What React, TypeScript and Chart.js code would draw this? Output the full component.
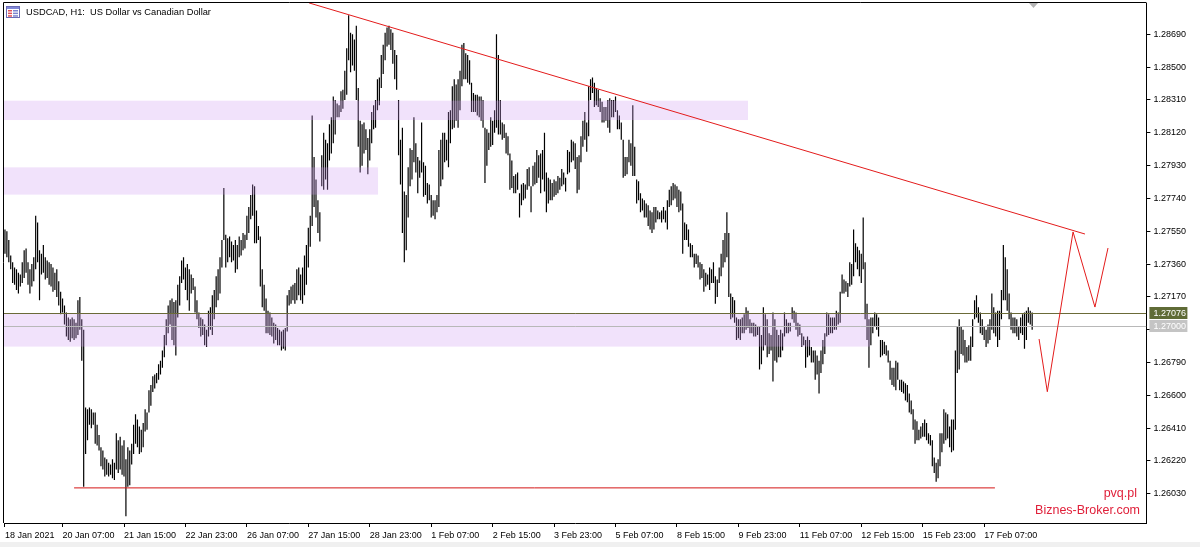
import React, { useEffect, useRef } from 'react';
import { Chart, registerables } from 'chart.js';

Chart.register(...registerables);

// ---- H1 bars (USDCAD), high / low per bar ----
const highs = [
1.2756,1.2755,1.2750,1.2741,1.2737,1.2734,1.2733,1.2731,1.2730,1.2737,
1.2744,1.2745,1.2737,1.2733,1.2736,1.2740,1.2764,1.2760,1.2744,1.2742,
1.2747,1.2740,1.2738,1.2737,1.2736,1.2734,1.2731,1.2733,1.2726,1.2720,
1.2716,1.2712,1.2708,1.2705,1.2704,1.2705,1.2704,1.2702,1.2715,1.2717,
1.2704,1.2698,1.2653,1.2652,1.2653,1.2652,1.2650,1.2650,1.2643,1.2637,
1.2630,1.2628,1.2624,1.2623,1.2621,1.2620,1.2623,1.2621,1.2638,1.2634,
1.2636,1.2631,1.2634,1.2623,1.2630,1.2628,1.2632,1.2643,1.2649,1.2646,
1.2642,1.2640,1.2644,1.2652,1.2650,1.2663,1.2666,1.2671,1.2672,1.2673,
1.2678,1.2680,1.2686,1.2695,1.2704,1.2712,1.2715,1.2716,1.2714,1.2715,
1.2724,1.2729,1.2738,1.2740,1.2734,1.2736,1.2733,1.2730,1.2728,1.2723,
1.2715,1.2708,1.2705,1.2704,1.2701,1.2698,1.2709,1.2711,1.2718,1.2721,
1.2729,1.2733,1.2740,1.2750,1.2780,1.2753,1.2751,1.2752,1.2749,1.2747,
1.2750,1.2747,1.2752,1.2750,1.2754,1.2753,1.2764,1.2769,1.2776,1.2782,
1.2781,1.2767,1.2758,1.2752,1.2733,1.2724,1.2716,1.2709,1.2708,1.2705,
1.2702,1.2701,1.2699,1.2698,1.2697,1.2698,1.2699,1.2718,1.2721,1.2723,
1.2724,1.2725,1.2733,1.2734,1.2730,1.2734,1.2741,1.2747,1.2757,1.2764,
1.2822,1.2798,1.2785,1.2773,1.2766,1.2799,1.2812,1.2808,1.2806,1.2817,
1.2821,1.2833,1.2831,1.2829,1.2828,1.2836,1.2837,1.2848,1.2861,1.2880,
1.2870,1.2869,1.2866,1.2874,1.2838,1.2819,1.2817,1.2818,1.2814,1.2809,
1.2814,1.2824,1.2828,1.2831,1.2843,1.2844,1.2857,1.2863,1.2870,1.2873,
1.2874,1.2872,1.2870,1.2860,1.2857,1.2831,1.2808,1.2815,1.2778,1.2776,
1.2792,1.2803,1.2802,1.2821,1.2806,1.2798,1.2796,1.2818,1.2795,1.2793,
1.2783,1.2782,1.2776,1.2773,1.2773,1.2776,1.2802,1.2808,1.2812,1.2812,
1.2808,1.2824,1.2825,1.2839,1.2843,1.2840,1.2843,1.2848,1.2863,1.2864,
1.2858,1.2857,1.2854,1.2841,1.2835,1.2834,1.2834,1.2833,1.2833,1.2831,
1.2815,1.2814,1.2812,1.2821,1.2819,1.2825,1.2869,1.2857,1.2831,1.2818,
1.2817,1.2812,1.2810,1.2800,1.2796,1.2787,1.2788,1.2789,1.2777,1.2782,
1.2783,1.2782,1.2791,1.2792,1.2781,1.2793,1.2795,1.2802,1.2799,1.2800,
1.2802,1.2812,1.2789,1.2786,1.2785,1.2783,1.2785,1.2784,1.2787,1.2786,
1.2791,1.2789,1.2786,1.2802,1.2801,1.2808,1.2807,1.2806,1.2798,1.2799,
1.2810,1.2819,1.2824,1.2818,1.2839,1.2843,1.2844,1.2841,1.2838,1.2837,
1.2832,1.2830,1.2827,1.2827,1.2831,1.2832,1.2831,1.2831,1.2833,1.2825,
1.2822,1.2818,1.2808,1.2798,1.2798,1.2808,1.2806,1.2828,1.2804,1.2785,
1.2784,1.2777,1.2774,1.2773,1.2771,1.2770,1.2767,1.2766,1.2769,1.2769,
1.2767,1.2766,1.2767,1.2769,1.2767,1.2773,1.2779,1.2781,1.2783,1.2782,
1.2781,1.2779,1.2778,1.2771,1.2760,1.2759,1.2756,1.2748,1.2747,1.2742,
1.2742,1.2741,1.2737,1.2736,1.2733,1.2731,1.2730,1.2734,1.2733,1.2737,
1.2729,1.2727,1.2734,1.2742,1.2750,1.2754,1.2766,1.2754,1.2719,1.2717,
1.2715,1.2705,1.2704,1.2704,1.2705,1.2707,1.2711,1.2709,1.2704,1.2702,
1.2702,1.2701,1.2700,1.2700,1.2695,1.2711,1.2707,1.2704,1.2696,1.2695,
1.2708,1.2704,1.2698,1.2695,1.2698,1.2696,1.2708,1.2704,1.2702,1.2702,
1.2711,1.2709,1.2708,1.2702,1.2701,1.2696,1.2694,1.2692,1.2694,1.2692,
1.2688,1.2686,1.2686,1.2683,1.2680,1.2686,1.2692,1.2696,1.2708,1.2707,
1.2705,1.2705,1.2705,1.2709,1.2708,1.2720,1.2730,1.2727,1.2726,1.2725,
1.2737,1.2736,1.2756,1.2748,1.2746,1.2744,1.2742,1.2763,1.2737,1.2713,
1.2704,1.2705,1.2705,1.2708,1.2707,1.2705,1.2692,1.2692,1.2691,1.2689,
1.2686,1.2680,1.2676,1.2676,1.2680,1.2679,1.2669,1.2669,1.2668,1.2667,
1.2666,1.2661,1.2657,1.2652,1.2646,1.2645,1.2640,1.2642,1.2644,1.2646,
1.2644,1.2638,1.2637,1.2634,1.2624,1.2621,1.2623,1.2638,1.2638,1.2652,
1.2650,1.2649,1.2642,1.2646,1.2646,1.2686,1.2700,1.2704,1.2700,1.2698,
1.2692,1.2688,1.2689,1.2694,1.2704,1.2715,1.2718,1.2711,1.2708,1.2704,
1.2700,1.2698,1.2701,1.2704,1.2719,1.2711,1.2708,1.2709,1.2709,1.2721,
1.2747,1.2740,1.2733,1.2719,1.2708,1.2705,1.2705,1.2704,1.2700,1.2705,
1.2707,1.2708,1.2709,1.2711,1.2709,1.2708
];

const lows = [
1.2742,1.2740,1.2737,1.2733,1.2725,1.2724,1.2721,1.2719,1.2723,1.2725,
1.2728,1.2731,1.2724,1.2719,1.2723,1.2726,1.2733,1.2737,1.2715,1.2730,
1.2731,1.2727,1.2728,1.2724,1.2723,1.2720,1.2721,1.2717,1.2712,1.2707,
1.2708,1.2701,1.2694,1.2692,1.2691,1.2693,1.2692,1.2693,1.2695,1.2698,
1.2680,1.2607,1.2626,1.2634,1.2643,1.2641,1.2643,1.2632,1.2631,1.2628,
1.2619,1.2617,1.2613,1.2614,1.2613,1.2614,1.2612,1.2611,1.2617,1.2615,
1.2617,1.2614,1.2613,1.2590,1.2607,1.2608,1.2620,1.2626,1.2632,1.2630,
1.2626,1.2627,1.2630,1.2639,1.2640,1.2650,1.2654,1.2662,1.2664,1.2667,
1.2669,1.2672,1.2676,1.2682,1.2689,1.2696,1.2701,1.2692,1.2689,1.2683,
1.2705,1.2712,1.2725,1.2727,1.2721,1.2715,1.2709,1.2719,1.2721,1.2708,
1.2704,1.2699,1.2694,1.2695,1.2689,1.2688,1.2694,1.2698,1.2695,1.2704,
1.2711,1.2715,1.2719,1.2734,1.2750,1.2734,1.2737,1.2740,1.2737,1.2738,
1.2731,1.2733,1.2740,1.2741,1.2744,1.2745,1.2750,1.2754,1.2762,1.2764,
1.2748,1.2748,1.2750,1.2723,1.2711,1.2709,1.2696,1.2696,1.2695,1.2694,
1.2690,1.2692,1.2689,1.2689,1.2686,1.2687,1.2686,1.2697,1.2712,1.2713,
1.2715,1.2713,1.2715,1.2718,1.2715,1.2713,1.2718,1.2724,1.2734,1.2746,
1.2758,1.2769,1.2763,1.2754,1.2749,1.2781,1.2779,1.2785,1.2779,1.2796,
1.2800,1.2806,1.2811,1.2821,1.2821,1.2824,1.2826,1.2831,1.2834,1.2854,
1.2847,1.2851,1.2848,1.2831,1.2804,1.2789,1.2793,1.2800,1.2802,1.2788,
1.2796,1.2806,1.2814,1.2815,1.2825,1.2828,1.2838,1.2846,1.2854,1.2862,
1.2863,1.2860,1.2852,1.2843,1.2837,1.2799,1.2782,1.2754,1.2737,1.2744,
1.2763,1.2781,1.2785,1.2795,1.2789,1.2777,1.2786,1.2789,1.2775,1.2776,
1.2771,1.2773,1.2763,1.2764,1.2762,1.2766,1.2769,1.2781,1.2785,1.2795,
1.2796,1.2792,1.2806,1.2814,1.2815,1.2819,1.2815,1.2825,1.2839,1.2843,
1.2843,1.2841,1.2840,1.2824,1.2824,1.2824,1.2822,1.2821,1.2819,1.2815,
1.2783,1.2793,1.2802,1.2804,1.2805,1.2812,1.2815,1.2811,1.2811,1.2808,
1.2809,1.2800,1.2799,1.2779,1.2780,1.2777,1.2777,1.2779,1.2763,1.2770,
1.2773,1.2774,1.2779,1.2781,1.2766,1.2781,1.2782,1.2783,1.2786,1.2777,
1.2785,1.2778,1.2766,1.2771,1.2773,1.2773,1.2775,1.2776,1.2777,1.2779,
1.2781,1.2782,1.2778,1.2788,1.2789,1.2795,1.2796,1.2791,1.2777,1.2779,
1.2795,1.2804,1.2808,1.2801,1.2810,1.2831,1.2835,1.2827,1.2828,1.2827,
1.2824,1.2818,1.2818,1.2819,1.2815,1.2812,1.2821,1.2821,1.2824,1.2814,
1.2814,1.2808,1.2786,1.2787,1.2788,1.2795,1.2793,1.2787,1.2787,1.2771,
1.2773,1.2766,1.2767,1.2763,1.2763,1.2758,1.2756,1.2754,1.2756,1.2760,
1.2762,1.2762,1.2760,1.2762,1.2760,1.2756,1.2769,1.2770,1.2773,1.2774,
1.2769,1.2766,1.2767,1.2742,1.2750,1.2750,1.2746,1.2740,1.2740,1.2734,
1.2736,1.2734,1.2727,1.2728,1.2720,1.2723,1.2724,1.2721,1.2725,1.2725,
1.2713,1.2717,1.2725,1.2729,1.2734,1.2737,1.2740,1.2717,1.2704,1.2705,
1.2702,1.2692,1.2693,1.2692,1.2696,1.2696,1.2698,1.2699,1.2696,1.2696,
1.2694,1.2694,1.2695,1.2675,1.2678,1.2686,1.2689,1.2682,1.2684,1.2686,
1.2668,1.2680,1.2679,1.2682,1.2682,1.2686,1.2694,1.2696,1.2696,1.2697,
1.2704,1.2702,1.2698,1.2694,1.2695,1.2688,1.2689,1.2676,1.2682,1.2683,
1.2679,1.2679,1.2669,1.2672,1.2661,1.2673,1.2678,1.2684,1.2694,1.2695,
1.2696,1.2696,1.2698,1.2698,1.2701,1.2702,1.2719,1.2719,1.2720,1.2717,
1.2723,1.2724,1.2729,1.2737,1.2733,1.2729,1.2725,1.2733,1.2704,1.2692,
1.2676,1.2689,1.2696,1.2700,1.2698,1.2694,1.2682,1.2683,1.2684,1.2683,
1.2679,1.2669,1.2666,1.2665,1.2663,1.2669,1.2663,1.2662,1.2661,1.2657,
1.2656,1.2650,1.2649,1.2640,1.2632,1.2634,1.2634,1.2635,1.2636,1.2636,
1.2634,1.2632,1.2631,1.2619,1.2615,1.2610,1.2612,1.2619,1.2627,1.2632,
1.2634,1.2635,1.2630,1.2627,1.2628,1.2640,1.2673,1.2675,1.2684,1.2683,
1.2679,1.2679,1.2680,1.2680,1.2688,1.2704,1.2705,1.2702,1.2696,1.2695,
1.2692,1.2688,1.2690,1.2692,1.2698,1.2696,1.2694,1.2688,1.2692,1.2704,
1.2715,1.2715,1.2709,1.2704,1.2698,1.2696,1.2696,1.2694,1.2692,1.2696,
1.2695,1.2687,1.2692,1.2702,1.2701,1.2698
];

// ---- axes ----
const timeTickIndex = [0, 30, 62, 94, 126, 158, 190, 222, 254, 286, 318, 350, 382, 414, 446, 478, 510];
const timeTickLabels = [
  '18 Jan 2021', '20 Jan 07:00', '21 Jan 15:00', '22 Jan 23:00', '26 Jan 07:00', '27 Jan 15:00',
  '28 Jan 23:00', '1 Feb 07:00', '2 Feb 15:00', '3 Feb 23:00', '5 Feb 07:00', '8 Feb 15:00',
  '9 Feb 23:00', '11 Feb 07:00', '12 Feb 15:00', '15 Feb 23:00', '17 Feb 07:00'
];
const priceTicks = [1.2603, 1.2622, 1.2641, 1.266, 1.2679, 1.2698, 1.2717, 1.2736, 1.2755, 1.2774, 1.2793, 1.2812, 1.2831, 1.285, 1.2869];
const priceMin = 1.258608;
const priceMax = 1.288716;
const barSlotsMin = -0.5;
const barSlotsMax = 594.5;

// ---- drawn objects ----
const trendX = [158.4, 562.5];
const trendY = [1.28872, 1.27534];
const supportX = [36, 515.6];
const supportY = [1.26064, 1.26064];
const forecastX = [538.6, 542.9, 556.3, 567.7, 574.5];
const forecastY = [1.26926, 1.26621, 1.27546, 1.27111, 1.27453];
const zoneFrom = [-3, -3, -3];
const zoneTo = [387, 194.3, 450.5];
const zoneHigh = [1.28306, 1.2792, 1.27076];
const zoneLow = [1.28194, 1.27762, 1.26882];
const levelPrice = 1.27076;
const bidPrice = 1.27;
const titleText = 'USDCAD, H1:  US Dollar vs Canadian Dollar';
const watermark1 = 'pvq.pl';
const watermark2 = 'Biznes-Broker.com';

const FONT = '"Liberation Sans", Arial, sans-serif';

function App() {
  const ref = useRef<HTMLCanvasElement | null>(null);

  useEffect(() => {
    document.body.style.margin = '0';
    document.body.style.background = '#ffffff';
    const canvas = ref.current;
    if (!canvas) return;

    const overlay = {
      id: 'mtOverlay',
      afterDatasetDraw(chart: any, args: any) {
        if (args.index !== 0) return;
        const { ctx, chartArea: a, scales } = chart;
        const x = scales.x;
        const y = scales.y;
        ctx.save();
        ctx.beginPath();
        ctx.rect(a.left, a.top, a.right - a.left, a.bottom - a.top);
        ctx.clip();
        ctx.fillStyle = 'rgba(205,150,240,0.28)';
        for (let k = 0; k < zoneFrom.length; k++) {
          const x0 = x.getPixelForValue(zoneFrom[k]);
          const x1 = x.getPixelForValue(zoneTo[k]);
          const y0 = y.getPixelForValue(zoneHigh[k]);
          const y1 = y.getPixelForValue(zoneLow[k]);
          ctx.fillRect(x0, y0, x1 - x0, y1 - y0);
        }
        const ly = Math.round(y.getPixelForValue(levelPrice)) + 0.5;
        ctx.strokeStyle = '#6b6b38';
        ctx.lineWidth = 1;
        ctx.beginPath();
        ctx.moveTo(a.left, ly);
        ctx.lineTo(a.right, ly);
        ctx.stroke();
        const by = Math.round(y.getPixelForValue(bidPrice)) + 0.5;
        ctx.strokeStyle = '#b8b8b8';
        ctx.beginPath();
        ctx.moveTo(a.left, by);
        ctx.lineTo(a.right, by);
        ctx.stroke();
        ctx.restore();
      },
      afterDraw(chart: any) {
        const { ctx, chartArea: a, scales } = chart;
        const y = scales.y;
        ctx.save();
        ctx.strokeStyle = '#000';
        ctx.lineWidth = 1;
        ctx.beginPath();
        ctx.moveTo(3.5, a.bottom);
        ctx.lineTo(3.5, 2.5);
        ctx.lineTo(Math.round(a.right) + 0.5, 2.5);
        ctx.stroke();

        const tag = (price: number, fill: string, text: string) => {
          const py = Math.round(y.getPixelForValue(price));
          ctx.fillStyle = fill;
          ctx.fillRect(a.right + 3, py - 6, 38, 12);
          ctx.fillStyle = '#ffffff';
          ctx.font = '9px ' + FONT;
          ctx.textAlign = 'left';
          ctx.textBaseline = 'middle';
          ctx.fillText(text, a.right + 7, py + 0.5);
        };
        tag(levelPrice, '#5f6b36', levelPrice.toFixed(5));
        tag(bidPrice, '#c4c4c4', bidPrice.toFixed(5));

        ctx.fillStyle = '#ffffff';
        ctx.fillRect(6, 6, 14, 12);
        ctx.strokeStyle = '#6a6ab4';
        ctx.strokeRect(6.5, 6.5, 13, 11);
        ctx.fillStyle = '#8088d8';
        ctx.fillRect(7, 7, 12, 2);
        for (let r = 0; r < 3; r++) {
          ctx.fillStyle = '#e0505a';
          ctx.fillRect(8, 10 + r * 2.6, 4, 1.5);
          ctx.fillStyle = '#7a84d0';
          ctx.fillRect(13, 10 + r * 2.6, 5, 1.5);
        }
        ctx.fillStyle = '#000';
        ctx.font = '9.3px ' + FONT;
        ctx.textAlign = 'left';
        ctx.textBaseline = 'middle';
        ctx.fillText(titleText, 26, 12.5);

        ctx.fillStyle = '#b4b4b4';
        ctx.beginPath();
        ctx.moveTo(1029, 3);
        ctx.lineTo(1038, 3);
        ctx.lineTo(1033.5, 8);
        ctx.closePath();
        ctx.fill();

        ctx.fillStyle = '#e0203a';
        ctx.font = '12.5px ' + FONT;
        ctx.textAlign = 'right';
        ctx.fillText(watermark1, 1137, 494);
        ctx.fillText(watermark2, 1140, 511);

        ctx.fillStyle = '#f0f0f0';
        ctx.fillRect(0, 542, 1200, 5);
        ctx.restore();
      }
    };

    const chart = new Chart(canvas, {
      type: 'bar',
      data: {
        datasets: [
          {
            type: 'bar',
            order: 5,
            data: highs.map((h, i) => ({ x: i, y: [lows[i], h] })),
            backgroundColor: '#000000',
            borderWidth: 0,
            barThickness: 1.2,
            inflateAmount: 0,
            grouped: false
          } as any,
          {
            type: 'line',
            order: 1,
            data: trendX.map((v, i) => ({ x: v, y: trendY[i] })),
            borderColor: '#e31b1b',
            borderWidth: 1,
            pointRadius: 0,
            tension: 0
          },
          {
            type: 'line',
            order: 1,
            data: supportX.map((v, i) => ({ x: v, y: supportY[i] })),
            borderColor: '#d41414',
            borderWidth: 1,
            pointRadius: 0,
            tension: 0
          },
          {
            type: 'line',
            order: 1,
            data: forecastX.map((v, i) => ({ x: v, y: forecastY[i] })),
            borderColor: '#e31b1b',
            borderWidth: 1,
            pointRadius: 0,
            tension: 0
          }
        ]
      },
      options: {
        animation: false,
        responsive: false,
        maintainAspectRatio: false,
        devicePixelRatio: 1,
        layout: { padding: { left: 4, top: 3, right: 0, bottom: 0 } },
        plugins: { legend: { display: false }, tooltip: { enabled: false } },
        scales: {
          x: {
            type: 'linear',
            position: 'bottom',
            min: barSlotsMin,
            max: barSlotsMax,
            offset: false,
            afterBuildTicks: (s: any) => { s.ticks = timeTickIndex.map(v => ({ value: v })); },
            afterFit: (s: any) => { s.height = 24; s.paddingLeft = 0; s.paddingRight = 0; },
            ticks: {
              autoSkip: false,
              maxRotation: 0,
              minRotation: 0,
              align: 'start',
              padding: 3,
              color: '#000',
              font: { family: FONT, size: 9 },
              callback: (v: any) => {
                const k = timeTickIndex.indexOf(Number(v));
                return k >= 0 ? timeTickLabels[k] : '';
              }
            },
            grid: { display: true, drawOnChartArea: false, drawTicks: true, tickLength: 4, color: '#000', offset: false },
            border: { display: true, color: '#000' }
          },
          y: {
            type: 'linear',
            position: 'right',
            min: priceMin,
            max: priceMax,
            afterBuildTicks: (s: any) => { s.ticks = priceTicks.map(v => ({ value: v })); },
            afterFit: (s: any) => { s.width = 53.6; s.paddingTop = 0; s.paddingBottom = 0; },
            ticks: {
              autoSkip: false,
              padding: 3,
              color: '#000',
              font: { family: FONT, size: 9 },
              callback: (v: any) => Number(v).toFixed(5)
            },
            grid: { display: true, drawOnChartArea: false, drawTicks: true, tickLength: 4, color: '#000' },
            border: { display: true, color: '#000' }
          }
        }
      } as any,
      plugins: [overlay]
    });

    return () => chart.destroy();
  }, []);

  return (
    <div style={{ width: 1200, height: 547, background: '#fff' }}>
      <canvas ref={ref} width={1200} height={547} style={{ display: 'block', width: 1200, height: 547 }} />
    </div>
  );
}

export default App;
